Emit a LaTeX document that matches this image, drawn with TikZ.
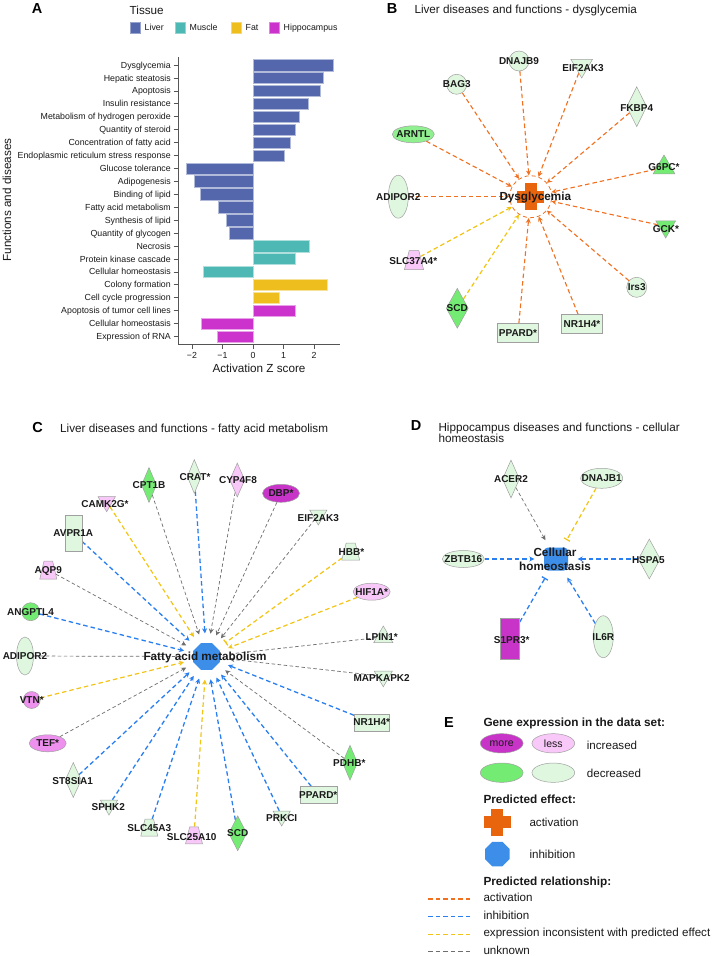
\documentclass[tikz,border=0pt]{standalone}
\usepackage{fontspec}
\setmainfont{Liberation Sans}
\usetikzlibrary{shapes.geometric,arrows.meta}
\pgfdeclarelayer{bg}
\pgfdeclarelayer{edges}
\pgfsetlayers{bg,edges,main}
\definecolor{liver}{HTML}{5466AC}
\definecolor{muscle}{HTML}{4DB8B4}
\definecolor{fat}{HTML}{EDBE1E}
\definecolor{hippo}{HTML}{CC33CC}
\definecolor{lgreen}{HTML}{DFF7DF}
\definecolor{mgreen}{HTML}{74EC74}
\definecolor{lpink}{HTML}{F8C8F8}
\definecolor{mpink}{HTML}{EE90EE}
\definecolor{dpink}{HTML}{C834C8}
\definecolor{gb}{HTML}{A0A0A0}
\definecolor{eorange}{HTML}{F07020}
\definecolor{xorange}{HTML}{E8650E}
\definecolor{eblue}{HTML}{2A7FF0}
\definecolor{oblue}{HTML}{3D8EE8}
\definecolor{eyellow}{HTML}{F2C414}
\definecolor{egray}{HTML}{6E6E6E}
\definecolor{txt}{HTML}{1A1A1A}
\definecolor{axc}{HTML}{555555}
\newcommand\gene[5]{\node[#2] (#1) at (#3) {}; \node[lbl] (#1-t) at (#4) {#5};}
\begin{document}
\begin{tikzpicture}[x=1pt,y=-1pt,
  rowlbl/.style={font=\fontsize{8.8}{10}\selectfont,inner sep=0,text=txt},
  ttl/.style={font=\fontsize{11.7}{13}\selectfont,inner sep=0,text=txt},
  plbl/.style={font=\bfseries\fontsize{14.5}{15}\selectfont,inner sep=0,text=black},
  lbl/.style={font=\bfseries\fontsize{10}{10}\selectfont,inner sep=0,text=txt,text height=7.2pt,text depth=0pt},
  clbl/.style={font=\bfseries\fontsize{11.7}{12}\selectfont,inner sep=0,text=txt,text height=8.4pt,text depth=0pt},
  lgbold/.style={font=\bfseries\fontsize{11.8}{12}\selectfont,inner sep=0,text=txt},
  lgtxt/.style={font=\fontsize{11.6}{12}\selectfont,inner sep=0,text=txt},
  lgsmall/.style={font=\fontsize{10.5}{11}\selectfont,inner sep=0,text=txt},
  axisc/.style={draw=axc,line width=0.7pt},
  lg/.style={fill=lgreen,draw=gb,line width=0.5pt},
  mg/.style={fill=mgreen,draw=gb,line width=0.5pt},
  lp/.style={fill=lpink,draw=gb,line width=0.5pt},
  mp/.style={fill=mpink,draw=gb,line width=0.5pt},
  dp/.style={fill=dpink,draw=gb,line width=0.5pt},
  gell/.style 2 args={ellipse,minimum width=#1,minimum height=#2,inner sep=0},
  gdia/.style 2 args={diamond,minimum width=#1,minimum height=#2,inner sep=0},
  grect/.style 2 args={rectangle,minimum width=#1,minimum height=#2,inner sep=0},
  gtrap/.style 2 args={trapezium,trapezium left angle=72,trapezium right angle=72,trapezium stretches=true,text width=4pt,text height=6pt,text depth=0pt,minimum width=#1,minimum height=#2,inner sep=0},
  gcirc/.style={circle,minimum size=#1,inner sep=0},
  gtup/.style={regular polygon,regular polygon sides=3,minimum size=#1,inner sep=0},
  gtdn/.style={regular polygon,regular polygon sides=3,minimum size=#1,inner sep=0,rotate=180},
  econ/.style={dashed,dash pattern=on 4.5pt off 3pt},
  eor/.style={econ,draw=eorange,line width=1.1pt},
  ebl/.style={econ,draw=eblue,line width=1.3pt},
  eye/.style={econ,draw=eyellow,line width=1.2pt},
  egr/.style={draw=egray,line width=0.7pt,dashed,dash pattern=on 3.5pt off 2.5pt},
  ahead/.style={-{Stealth[length=5pt,width=5pt]}},
  tbar/.style={-{Bar[width=7pt]}}
]
\begin{pgfonlayer}{bg}
\path[fill=white,use as bounding box] (0,0) rectangle (714,956);
\end{pgfonlayer}

% ---------------- Panel A ----------------
\node[plbl,anchor=base] (pA) at (37,13.3) {A};
\node[ttl,anchor=base west] (tissue) at (129.5,14) {Tissue};
\foreach \xx/\nm/\col in {130/Liver/liver,175/Muscle/muscle,231/Fat/fat,269/Hippocampus/hippo}{
  \node[draw=\col!60!white,fill=\col,minimum width=9.5,minimum height=10.5,inner sep=0,anchor=north west] (sq-\nm) at (\xx,22) {};
  \node[rowlbl,anchor=base west] (lg-\nm) at (\xx+14.5,30.7) {\nm};
}
\foreach \lab/\xe/\col [count=\i from 0] in {Dysglycemia/332.7/liver,Hepatic steatosis/322.7/liver,Apoptosis/320.3/liver,Insulin resistance/308.3/liver,Metabolism of hydrogen peroxide/299/liver,Quantity of steroid/294.7/liver,Concentration of fatty acid/289.7/liver,Endoplasmic reticulum stress response/284.3/liver,Glucose tolerance/185.7/liver,Adipogenesis/194/liver,Binding of lipid/200/liver,Fatty acid metabolism/218/liver,Synthesis of lipid/226/liver,Quantity of glycogen/228.7/liver,Necrosis/309.3/muscle,Protein kinase cascade/294.7/muscle,Cellular homeostasis/203.3/muscle,Colony formation/327/fat,Cell cycle progression/279.3/fat,Apoptosis of tumor cell lines/295/hippo,Cellular homeostasis/200.7/hippo,Expression of RNA/217/hippo}{
  \pgfmathsetmacro\yc{65+12.93*\i}
  \fill[\col,draw=white!55!\col,line width=0.4pt] (253,\yc-5.7) rectangle (\xe,\yc+5.7);
  \draw[axisc] (173.5,\yc) -- (178,\yc);
  \node[rowlbl,anchor=base east] (row\i) at (171,\yc+3.1) {\lab};
}
\draw[axisc] (178,57) -- (178,344) -- (340,344);
\foreach \v/\xx [count=\j] in {−2/192,−1/222.5,0/253,1/283.5,2/314}{
  \draw[axisc] (\xx,344) -- (\xx,348.5);
  \node[rowlbl,anchor=base] (tk\j) at (\xx,358.3) {\v};
}
\node[ttl,anchor=base] (xlab) at (259,372.5) {Activation Z score};
\node[ttl,rotate=90,anchor=base] (ylab) at (11.2,200) {Functions and diseases};

% ---------------- Panel B ----------------
\node[plbl,anchor=base] (pB) at (392,13.3) {B};
\node[ttl,anchor=base west] (tB) at (414.3,13.3) {Liver diseases and functions - dysglycemia};
\node[circle,minimum size=42,inner sep=0,draw=eorange,dashed,dash pattern=on 4pt off 3pt,line width=0.8pt] (dys) at (530.7,196.7) {};
\fill[xorange] (524.7,183.4) rectangle (536.7,210);
\fill[xorange] (517.4,190.7) rectangle (544,202.7);
\node[clbl] (dys-t) at (535.3,196.7) {Dysglycemia};
\gene{dnajb9}{gcirc=20,lg}{519,61}{519,61}{DNAJB9}
\gene{eifb}{gtdn=25,lg}{581.7,65.5}{583,68}{EIF2AK3}
\gene{bag3}{gcirc=20,lg}{456.7,84.3}{456.7,84.3}{BAG3}
\gene{fkbp4}{gdia={20}{40},lg}{636.7,106.7}{636.7,107.7}{FKBP4}
\gene{arntl}{gell={42}{17},fill=mgreen!80!white,draw=gb,line width=0.5pt}{413.3,134.3}{413.3,134.3}{ARNTL}
\gene{g6pc}{gtup=25,mg}{664,167.5}{664,166.7}{G6PC*}
\gene{adiporb}{gell={20}{43},lg}{398.3,196.7}{398.3,196.7}{ADIPOR2}
\gene{gck}{gtdn=23,mg}{665.7,226.5}{666,229}{GCK*}
\gene{slc37}{gtrap={19}{19},lp}{414,260}{413.3,261}{SLC37A4*}
\gene{irs3}{gcirc=20,lg}{636.7,287.3}{636.7,287.3}{Irs3}
\gene{scdb}{gdia={22}{40},mg}{457.3,308.3}{457.3,308.3}{SCD}
\gene{ppardb}{grect={41}{19},lg}{518,332.7}{518,332.7}{PPARD*}
\gene{nrb}{grect={41}{19},lg}{582,324}{582,324}{NR1H4*}
\begin{pgfonlayer}{edges}
\foreach \n in {dnajb9,eifb,bag3,fkbp4,arntl,g6pc,adiporb,gck,irs3,ppardb,nrb}
  \draw[eor,ahead] (\n) -- (dys);
\foreach \n in {slc37,scdb}
  \draw[eye,ahead] (\n) -- (dys);
\end{pgfonlayer}

% ---------------- Panel C ----------------
\node[plbl,anchor=base] (pC) at (37.5,432.3) {C};
\node[ttl,anchor=base west] (tC) at (60,432.3) {Liver diseases and functions - fatty acid metabolism};
\node[circle,minimum size=46,inner sep=0] (fam) at (206.5,656.5) {};
\node[regular polygon,regular polygon sides=8,minimum size=29,inner sep=0,fill=oblue] (famo) at (206.5,656.5) {};
\node[clbl] (fam-t) at (205,656.5) {Fatty acid metabolism};
\gene{crat}{gdia={14}{34},lg}{194.3,476.5}{195,476.7}{CRAT*}
\gene{cpt1b}{gdia={15}{35},mg}{149,485}{149,485}{CPT1B}
\gene{cyp4f8}{gdia={15}{34},lp}{237.3,480}{238,480}{CYP4F8}
\gene{dbp}{gell={37}{18},dp}{281,493.3}{281,493.3}{DBP*}
\gene{camk2g}{gtdn=20,lp}{106.7,501.7}{105,504}{CAMK2G*}
\gene{eifc}{gtdn=20,lg}{318.3,515}{318.3,518.3}{EIF2AK3}
\gene{avpr1a}{grect={17}{36},lg}{73.3,533.3}{73.3,533.3}{AVPR1A}
\gene{hbb}{gtrap={18}{17},lg}{350.7,551.7}{351.5,551.7}{HBB*}
\gene{aqp9}{gtrap={17}{18},lp}{48.3,570}{48.3,570}{AQP9}
\gene{hif1a}{gell={37}{17},lp}{371.7,591.7}{371.7,591.7}{HIF1A*}
\gene{angptl4}{gcirc=18,mg}{30.7,611.7}{30.5,611.7}{ANGPTL4}
\gene{lpin1}{gtup=22,lg}{383.3,637}{381.7,636.7}{LPIN1*}
\gene{adiporc}{gell={17}{38},lg}{25,656}{25,656}{ADIPOR2}
\gene{mapk}{gtdn=21,lg}{383.3,676.3}{381.7,678}{MAPKAPK2}
\gene{vtn}{gcirc=17,mp}{31.7,700}{31.7,700}{VTN*}
\gene{nrc}{grect={35}{17},lg}{371.7,722.3}{371.7,722.3}{NR1H4*}
\gene{tef}{gell={37}{17},mp}{47.7,743.3}{47.7,743.3}{TEF*}
\gene{pdhb}{gdia={15}{35},mg}{350,762.7}{349.3,762.7}{PDHB*}
\gene{st8}{gdia={16}{35},lg}{73.3,780}{72.7,780.7}{ST8SIA1}
\gene{ppardc}{grect={37}{17},lg}{318.3,795}{318.3,795}{PPARD*}
\gene{sphk2}{gtdn=20,lg}{109,805}{108.3,807.3}{SPHK2}
\gene{prkci}{gtdn=20,lg}{281.7,816}{281.7,818.3}{PRKCI}
\gene{slc45}{gtrap={17}{17},lg}{149.3,827.7}{149.3,827.7}{SLC45A3}
\gene{slc25}{gtrap={17}{17},lp}{194,835.3}{191.7,836.7}{SLC25A10}
\gene{scdc}{gdia={18}{35},mg}{237.7,833.3}{237.7,833.3}{SCD}
\begin{pgfonlayer}{edges}
\foreach \n in {crat,avpr1a,angptl4,nrc,st8,ppardc,sphk2,prkci,slc45,scdc}
  \draw[ebl,ahead] (\n) -- (fam);
\foreach \n in {camk2g,hif1a,vtn,slc25}
  \draw[eye,ahead] (\n) -- (fam);
\draw[eye,tbar] (hbb) -- (fam);
\foreach \n in {cpt1b,cyp4f8,dbp,eifc,aqp9,mapk,tef,pdhb}
  \draw[egr,ahead] (\n) -- (fam);
\foreach \n in {lpin1,adiporc}
  \draw[egr] (\n) -- (fam);
\end{pgfonlayer}

% ---------------- Panel D ----------------
\node[plbl,anchor=base] (pD) at (416,430) {D};
\node[ttl,anchor=base west] (tD1) at (438.3,431) {Hippocampus diseases and functions - cellular};
\node[ttl,anchor=base west] (tD2) at (438.3,442.7) {homeostasis};
\node[circle,minimum size=43,inner sep=0] (chm) at (556,559) {};
\node[rectangle,rounded corners=4pt,minimum width=24,minimum height=23,fill=oblue,inner sep=0] (chb) at (556,559) {};
\node[clbl] (chm-t1) at (555,552.2) {Cellular};
\node[clbl] (chm-t2) at (555,565.8) {homeostasis};
\gene{acer2}{gdia={17}{38},lg}{511,479}{511,479}{ACER2}
\gene{dnajb1}{gell={42}{20},lg}{601.7,478.3}{601.7,478.3}{DNAJB1}
\gene{zbtb16}{gell={42}{17},lg}{463.3,559}{463.3,559}{ZBTB16}
\gene{hspa5}{gdia={22}{40},lg}{649.3,559}{648.3,560}{HSPA5}
\gene{s1pr3}{grect={19}{41},dp}{510,639}{511.7,640}{S1PR3*}
\gene{il6r}{gell={20}{42},lg}{603.3,636.7}{603.3,636.7}{IL6R}
\begin{pgfonlayer}{edges}
\draw[egr,ahead] (acer2) -- (chm);
\draw[eye,tbar] (dnajb1) -- (chm);
\draw[ebl,ahead] (zbtb16) -- (chm);
\draw[ebl,ahead] (hspa5) -- (chm);
\draw[ebl,tbar] (s1pr3) -- (chm);
\draw[ebl,ahead] (il6r) -- (chm);
\end{pgfonlayer}

% ---------------- Panel E ----------------
\node[plbl,anchor=base] (pE) at (449,727.3) {E};
\node[lgbold,anchor=base west] (eh1) at (483.3,726.7) {Gene expression in the data set:};
\node[gell={42.7}{19.3},dp] (emore) at (501.7,743.3) {};
\node[lgsmall] (emore-t) at (501.7,743.3) {more};
\node[gell={42.7}{19.3},lp] (eless) at (553.3,743.3) {};
\node[lgsmall] (eless-t) at (553.3,743.3) {less};
\node[lgtxt,anchor=base west] (einc) at (586.7,749.3) {increased};
\node[gell={42.7}{19.3},mg] (edec1) at (501.7,772.7) {};
\node[gell={42.7}{19.3},lg] (edec2) at (553.3,772.7) {};
\node[lgtxt,anchor=base west] (edec) at (586.7,777.3) {decreased};
\node[lgbold,anchor=base west] (eh2) at (483.3,803.3) {Predicted effect:};
\fill[xorange] (491.3,808.8) rectangle (503.3,835.8);
\fill[xorange] (483.8,816.3) rectangle (510.8,828.3);
\node[lgtxt,anchor=base west] (eact) at (529.3,826) {activation};
\node[regular polygon,regular polygon sides=8,minimum size=26.5,inner sep=0,fill=oblue] (eoct) at (497.3,854) {};
\node[lgtxt,anchor=base west] (einh) at (529.3,858.3) {inhibition};
\node[lgbold,anchor=base west] (eh3) at (483.3,885) {Predicted relationship:};
\coordinate (la1) at (428.3,899);   \coordinate (la2) at (470,899);
\coordinate (lb1) at (428.3,916.7); \coordinate (lb2) at (470,916.7);
\coordinate (lc1) at (428.3,934.3); \coordinate (lc2) at (470,934.3);
\coordinate (ld1) at (428.3,951.7); \coordinate (ld2) at (470,951.7);
\draw[eor] (la1) -- (la2);
\draw[ebl] (lb1) -- (lb2);
\draw[eye] (lc1) -- (lc2);
\draw[egr,line width=1pt,dash pattern=on 4.5pt off 3pt] (ld1) -- (ld2);
\node[lgtxt,anchor=base west] (r1) at (483.3,901.7) {activation};
\node[lgtxt,anchor=base west] (r2) at (483.3,919.3) {inhibition};
\node[lgtxt,anchor=base west] (r3) at (483.3,936.8) {expression inconsistent with predicted effect};
\node[lgtxt,anchor=base west] (r4) at (483.3,954.3) {unknown};
\end{tikzpicture}
\end{document}
